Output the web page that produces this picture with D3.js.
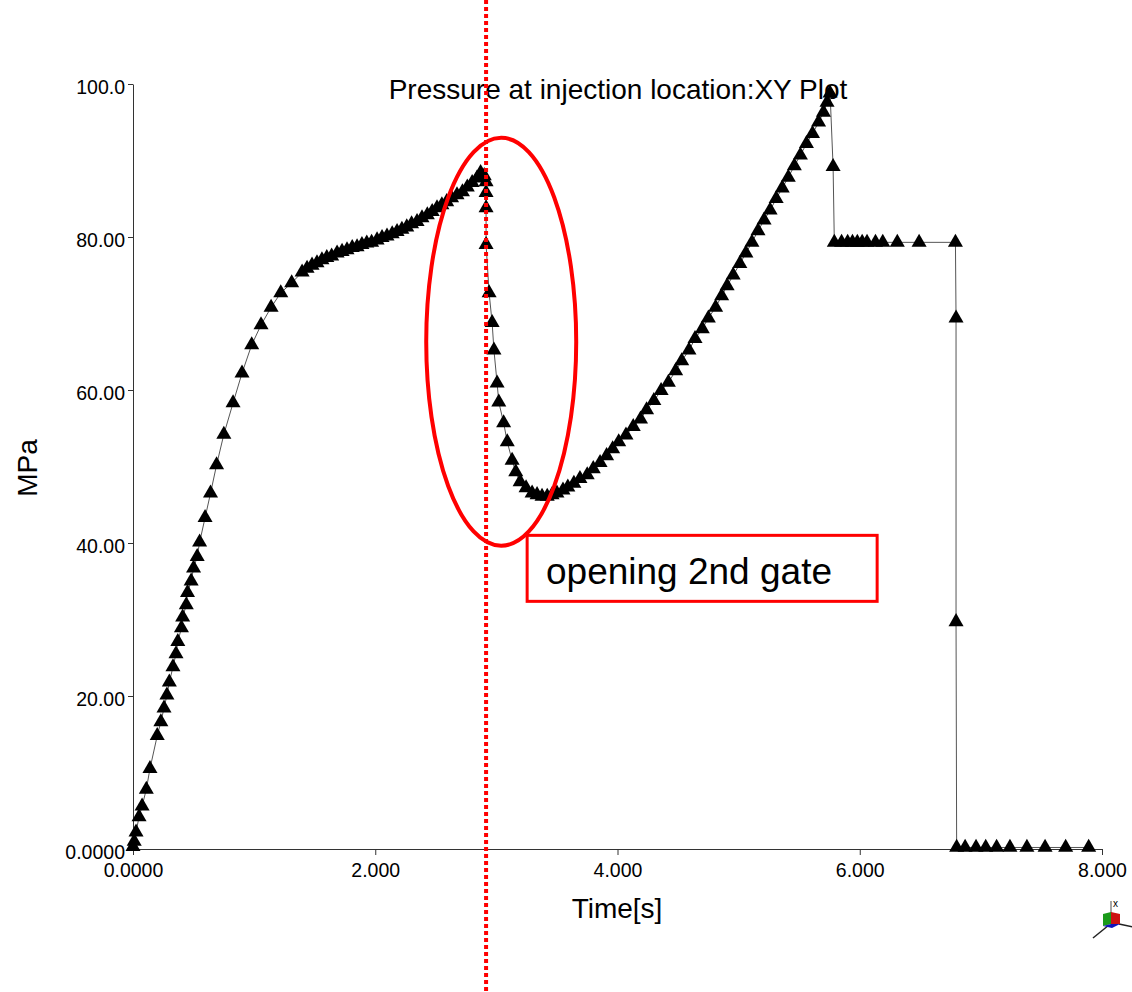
<!DOCTYPE html>
<html>
<head>
<meta charset="utf-8">
<script src="https://cdnjs.cloudflare.com/ajax/libs/d3/7.8.5/d3.min.js"></script>
<style>
  body { margin: 0; background: #fff; }
  text { font-family: "Liberation Sans", Arial, sans-serif; fill: #000; }
</style>
</head>
<body>
<script>
'use strict';

// time [s] of each sample
const times = [
  0.0, 0.01, 0.025, 0.05, 0.075, 0.11, 0.14, 0.20, 0.23, 0.256, 0.28, 0.30, 0.33, 0.355, 0.37,
  0.40, 0.41, 0.44, 0.45, 0.48, 0.50, 0.53, 0.55, 0.595, 0.64, 0.69, 0.75, 0.826, 0.90, 0.98,
  1.057, 1.14, 1.22, 1.31,
  1.396, 1.437, 1.478, 1.519, 1.56, 1.60, 1.64, 1.685, 1.726, 1.767, 1.81, 1.85, 1.89, 1.93,
  1.97, 2.015, 2.056, 2.097, 2.14, 2.18, 2.22, 2.26, 2.30, 2.345, 2.386, 2.43, 2.47, 2.51,
  2.55, 2.59, 2.63, 2.675, 2.72, 2.76, 2.80, 2.84, 2.87,
  2.90, 2.915, 2.915, 2.915, 2.915, 2.94, 2.965, 2.98, 3.006, 3.02, 3.06, 3.09, 3.13, 3.16,
  3.196, 3.245, 3.295, 3.336, 3.377, 3.42, 3.46, 3.50, 3.55, 3.59, 3.64, 3.69, 3.75, 3.80,
  3.856, 3.91, 3.96, 4.01, 4.07, 4.13, 4.19, 4.24, 4.30, 4.36, 4.42, 4.48, 4.53, 4.59, 4.64,
  4.70, 4.75, 4.81, 4.86, 4.905, 4.955, 5.01, 5.06, 5.11, 5.16, 5.21, 5.26, 5.31, 5.36, 5.41,
  5.46, 5.51, 5.56, 5.61, 5.66, 5.70, 5.73, 5.755,
  5.78, 5.79, 5.85, 5.90, 5.94, 5.98, 6.02, 6.06, 6.13, 6.19, 6.31, 6.49, 6.79,
  6.795, 6.795, 6.80, 6.87, 6.96, 7.04, 7.13, 7.24, 7.38, 7.53, 7.70, 7.89
];

// pressure [MPa] at injection location
const pressures = [
  0.3, 1.0, 2.2, 4.2, 5.6, 7.8, 10.5, 14.8, 16.6, 18.4, 20.1, 21.8, 23.8, 25.5, 27.1,
  28.9, 30.3, 31.9, 33.5, 35.0, 36.7, 38.2, 40.1, 43.3, 46.5, 50.2, 54.2, 58.3, 62.2, 65.9,
  68.5, 70.8, 72.7, 74.0,
  75.4, 75.9, 76.3, 76.6, 77.0, 77.3, 77.5, 77.9, 78.1, 78.3, 78.6, 78.7, 79.0, 79.2,
  79.3, 79.6, 79.9, 80.1, 80.4, 80.7, 81.0, 81.3, 81.7, 82.0, 82.5, 82.9, 83.3, 83.8,
  84.2, 84.6, 85.1, 85.5, 85.9, 86.5, 87.1, 87.7, 88.4,
  88.0, 87.2, 85.8, 83.8, 79.0, 72.7, 68.8, 65.2, 60.9, 58.4, 55.7, 53.2, 50.8, 49.3,
  48.0, 47.2, 46.5, 46.3, 46.1, 46.1, 46.3, 46.5, 46.9, 47.3, 47.8, 48.4, 48.9, 49.7,
  50.5, 51.4, 52.3, 53.2, 54.1, 55.2, 56.2, 57.4, 58.6, 59.9, 61.0, 62.5, 63.8, 65.2, 66.7,
  68.0, 69.4, 70.8, 72.3, 73.6, 75.0, 76.5, 77.9, 79.3, 80.8, 82.2, 83.5, 85.0, 86.4, 87.8,
  89.3, 90.7, 92.2, 93.5, 95.0, 96.3, 97.6, 98.8,
  89.2, 79.3, 79.3, 79.3, 79.3, 79.3, 79.3, 79.3, 79.3, 79.3, 79.3, 79.3, 79.3,
  69.4, 29.7, 0.2, 0.2, 0.2, 0.2, 0.2, 0.2, 0.2, 0.2, 0.2, 0.2
];

const xTicks = [0, 2, 4, 6, 8];
const xTickLabels = ['0.0000', '2.000', '4.000', '6.000', '8.000'];
const yTicks = [0, 20, 40, 60, 80, 100];
const yTickLabels = ['0.0000', '20.00', '40.00', '60.00', '80.00', '100.0'];

const titleText = 'Pressure at injection location:XY Plot';
const xTitle = 'Time[s]';
const yTitle = 'MPa';
const noteText = 'opening 2nd gate';
const gateTime = 2.915;

(function() {

  let svg = null;

  window.onload = function() {
    svg = d3.select('body')
      .append('svg')
      .attr('width', 1132)
      .attr('height', 992);

    let data = times.map((t, i) => ({ t: t, p: pressures[i] }));

    let xScale = d3.scaleLinear().domain([0, 8]).range([133, 1102]);
    let yScale = d3.scaleLinear().domain([0, 100]).range([849, 84]);

    drawAxes(xScale, yScale);
    plotData(data, xScale, yScale);
    drawNotes(xScale, yScale);
    drawTriad(1111, 921);
  };

  function drawAxes(xScale, yScale) {
    let xAxis = d3.axisBottom(xScale)
      .tickValues(xTicks)
      .tickFormat((d, i) => xTickLabels[i])
      .tickSizeInner(6)
      .tickSizeOuter(0)
      .tickPadding(10);
    let gx = svg.append('g')
      .attr('transform', 'translate(0, 849)')
      .call(xAxis);
    gx.selectAll('text').style('font-size', '19.5px').attr('dy', '0.6em').attr('font-family', null);

    let yAxis = d3.axisLeft(yScale)
      .tickValues(yTicks)
      .tickFormat((d, i) => yTickLabels[i])
      .tickSizeInner(5)
      .tickSizeOuter(0)
      .tickPadding(3);
    let gy = svg.append('g')
      .attr('transform', 'translate(133, 0)')
      .call(yAxis);
    gy.selectAll('text').style('font-size', '19.5px').attr('dy', '0.5em').attr('font-family', null);

    svg.selectAll('.domain, .tick line').attr('stroke', '#333');

    svg.append('text')
      .attr('x', 618)
      .attr('y', 99)
      .attr('text-anchor', 'middle')
      .style('font-size', '28px')
      .text(titleText);

    svg.append('text')
      .attr('x', 617)
      .attr('y', 918)
      .attr('text-anchor', 'middle')
      .style('font-size', '28px')
      .text(xTitle);

    svg.append('text')
      .attr('transform', 'translate(37, 468)rotate(-90)')
      .attr('text-anchor', 'middle')
      .style('font-size', '28px')
      .text(yTitle);
  }

  function plotData(data, xScale, yScale) {
    let line = d3.line()
      .x((d) => xScale(d.t))
      .y((d) => yScale(d.p));

    svg.append('path')
      .datum(data)
      .attr('d', line)
      .attr('fill', 'none')
      .attr('stroke', '#555')
      .attr('stroke-width', 1);

    let tri = d3.symbol().type(d3.symbolTriangle).size(98);
    svg.selectAll('.marker')
      .data(data)
      .enter()
      .append('path')
        .attr('class', 'marker')
        .attr('d', tri)
        .attr('transform', (d) => 'translate(' + xScale(d.t) + ',' + yScale(d.p) + ')')
        .attr('fill', '#000');
  }

  function drawNotes(xScale, yScale) {
    // dotted gate line spans the whole picture
    svg.append('line')
      .attr('x1', xScale(gateTime))
      .attr('x2', xScale(gateTime))
      .attr('y1', 0)
      .attr('y2', 992)
      .attr('stroke', '#ff0000')
      .attr('stroke-width', 4)
      .attr('stroke-dasharray', '4,3');

    svg.append('ellipse')
      .attr('cx', xScale(3.04))
      .attr('cy', yScale(66.3))
      .attr('rx', 75)
      .attr('ry', 204)
      .attr('fill', 'none')
      .attr('stroke', '#ff0000')
      .attr('stroke-width', 4);

    svg.append('rect')
      .attr('x', xScale(3.254))
      .attr('y', yScale(41.0))
      .attr('width', 350)
      .attr('height', 66)
      .attr('fill', 'none')
      .attr('stroke', '#ff0000')
      .attr('stroke-width', 3);

    svg.append('text')
      .attr('x', 546)
      .attr('y', 584)
      .style('font-size', '37px')
      .text(noteText);
  }

  // little orientation cube in the corner
  function drawTriad(cx, cy) {
    let g = svg.append('g').attr('transform', 'translate(' + cx + ',' + cy + ')');
    g.append('line').attr('x1', 0).attr('y1', 0).attr('x2', 0).attr('y2', -20)
      .attr('stroke', '#888').attr('stroke-width', 1.5);
    g.append('line').attr('x1', -2).attr('y1', 4).attr('x2', -18).attr('y2', 17)
      .attr('stroke', '#222').attr('stroke-width', 1.5);
    g.append('line').attr('x1', 8).attr('y1', 3).attr('x2', 22).attr('y2', 6)
      .attr('stroke', '#222').attr('stroke-width', 1.5);
    g.append('polygon').attr('points', '-8,-7 0,-9 0,3 -8,5').attr('fill', '#1a9a1a');
    g.append('polygon').attr('points', '0,-9 9,-7 9,3 0,3').attr('fill', '#cc1111');
    g.append('polygon').attr('points', '-8,5 0,3 9,3 1,7').attr('fill', '#1111bb');
    g.append('text').attr('x', 2).attr('y', -14).style('font-size', '10px').attr('fill', '#333').text('x');
  }

})();
</script>
</body>
</html>
